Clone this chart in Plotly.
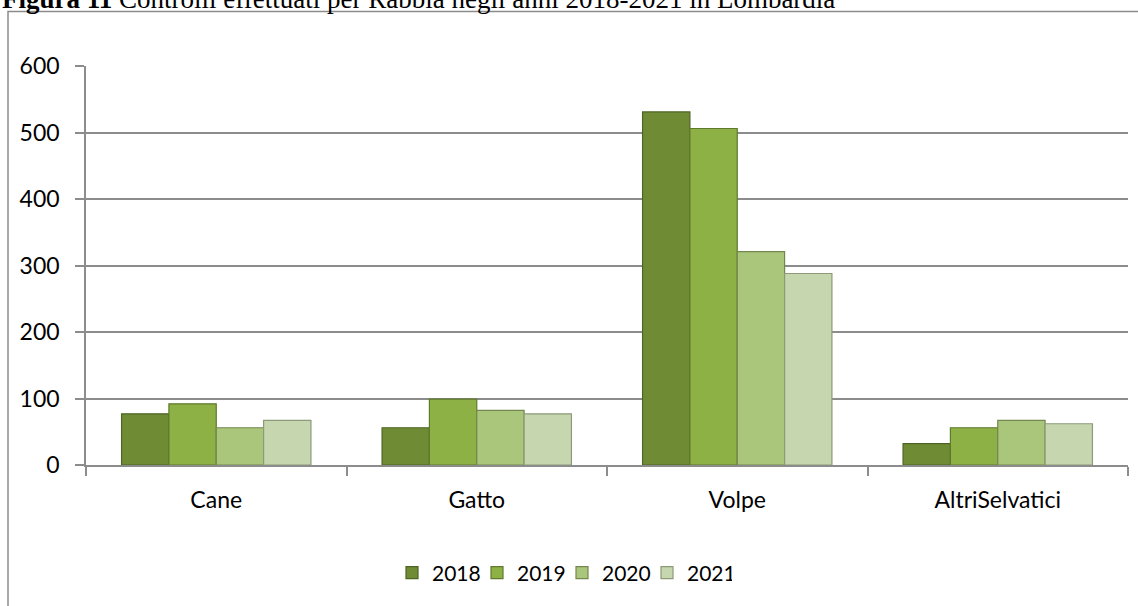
import plotly.graph_objects as go

categories = ["Cane", "Gatto", "Volpe", "AltriSelvatici"]
years = ["2018", "2019", "2020", "2021"]
v2018 = [77, 56, 531, 32]
v2019 = [92, 99, 506, 56]
v2020 = [56, 82, 321, 67]
v2021 = [67, 77, 288, 62]
series = [v2018, v2019, v2020, v2021]

fills = ["#6f8c35", "#8db145", "#aac67b", "#c6d6ae"]
edges = ["#4e6324", "#5f7a2c", "#74874f", "#8c9a78"]

W, H = 1138, 606
L, R, T, B = 86, 10, 66, 141
pw, ph = W - L - R, H - T - B


def px_x(p):
    return (p - L) / pw


def px_y(p):
    return (H - B - p) / ph


fig = go.Figure()
for name, vals, fc, ec in zip(years, series, fills, edges):
    fig.add_trace(go.Bar(
        x=categories, y=vals, name=name,
        marker=dict(color=fc, line=dict(color=ec, width=1.2)),
    ))

font_main = "Lato, 'Open Sans', sans-serif"

fig.update_layout(
    width=W, height=H,
    margin=dict(l=L, r=R, t=T, b=B),
    paper_bgcolor="white", plot_bgcolor="white",
    barmode="group", bargap=0.273, bargroupgap=0.0,
    font=dict(family=font_main, size=22, color="#000000"),
    showlegend=True,
    legend=dict(
        orientation="h", x=px_x(392), xanchor="left", y=px_y(573), yanchor="middle",
        font=dict(family=font_main, size=21, color="#000000"),
        itemwidth=30, traceorder="normal", entrywidth=40, entrywidthmode="pixels",
    ),
    xaxis=dict(
        type="category", showgrid=False, showline=True, linecolor="#8c8c8c", linewidth=1.5,
        ticks="outside", tickson="boundaries", ticklen=9, tickcolor="#8c8c8c", tickwidth=1.5,
        tickfont=dict(family=font_main, size=23, color="#000000"),
        ticklabelstandoff=14,
    ),
    yaxis=dict(
        range=[0, 600], dtick=100, showgrid=True, gridcolor="#8c8c8c", gridwidth=1.5,
        showline=True, linecolor="#8c8c8c", linewidth=1.5,
        ticks="outside", ticklen=9, tickcolor="#8c8c8c", tickwidth=1.5,
        tickfont=dict(family=font_main, size=23, color="#000000"),
        zeroline=False, ticklabelstandoff=11,
    ),
    shapes=[dict(
        type="rect", xref="paper", yref="paper",
        x0=px_x(8), x1=px_x(1145), y0=px_y(612), y1=px_y(11.5),
        line=dict(color="#8c8c8c", width=1.5), fillcolor="rgba(0,0,0,0)", layer="below",
    )],
    annotations=[dict(
        xref="paper", yref="paper", x=px_x(0), y=px_y(16), xanchor="left", yanchor="bottom",
        text="<b>Figura 11</b> Controlli effettuati per Rabbia negli anni 2018-2021 in Lombardia",
        showarrow=False, align="left",
        font=dict(family="'Liberation Serif', 'Times New Roman', serif", size=27, color="#000000"),
    )],
)

fig.write_html(
    "out.html",
    config={"displayModeBar": False},
    post_script="document.body.style.margin='0';document.body.style.overflow='hidden';",
)
